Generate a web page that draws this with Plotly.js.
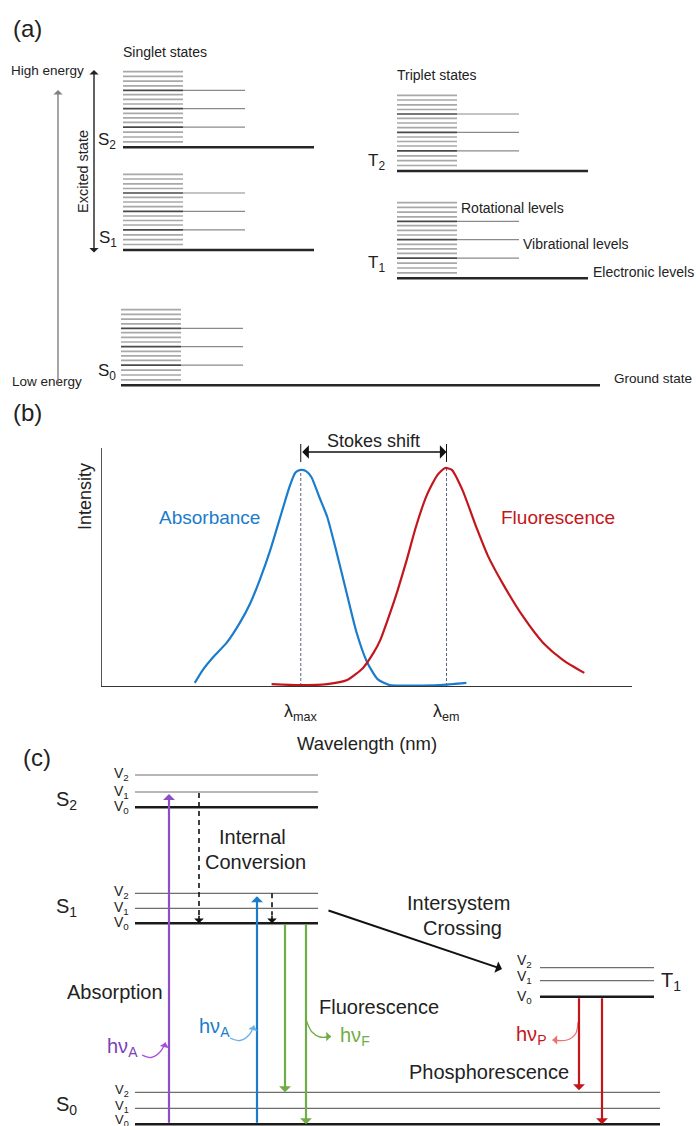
<!DOCTYPE html>
<html><head><meta charset="utf-8">
<script src="https://cdn.plot.ly/plotly-3.0.1.min.js"></script>
<style>html,body{margin:0;padding:0;background:#fff}#chart{width:696px;height:1126px}</style>
</head><body><div id="chart"></div>
<script>
// ---------------- (a) Energy levels (canvas units, y downward) ----------------
const singletLabels = ['S<sub>2</sub>', 'S<sub>1</sub>', 'S<sub>0</sub>'];
const singletLevels = [147.3, 250, 385.3];
const tripletLabels = ['T<sub>2</sub>', 'T<sub>1</sub>'];
const tripletLevels = [171, 278.3];
const rotationalOffsets = [5.5, 10.3, 15.2, 20.2, 25, 29.5, 34, 38.7, 43.3, 48, 52.6, 57, 61.5, 66.2, 71, 75.6];
const vibrationalOffsets = [20.2, 38.7, 57];

// ---------------- (b) Spectra ----------------
const absWavelength = [320, 326, 334, 344, 354, 362, 369, 377, 384, 392, 396, 400, 404, 408, 414, 420, 427, 435, 442, 450, 458, 467, 482, 505, 525];
const absIntensity  = [0.013, 0.067, 0.122, 0.181, 0.265, 0.349, 0.445, 0.571, 0.70, 0.845, 0.897, 0.908, 0.903, 0.878, 0.794, 0.710, 0.563, 0.382, 0.227, 0.101, 0.029, 0.004, 0.002, 0.004, 0.013];
const fluoWavelength = [378, 399, 420, 435, 447, 455, 460, 467, 473, 480, 487, 495, 503, 509, 514, 522, 533, 541, 553, 568, 583, 598, 614];
const fluoIntensity  = [0.008, 0.004, 0.008, 0.025, 0.076, 0.14, 0.193, 0.30, 0.40, 0.53, 0.67, 0.80, 0.885, 0.916, 0.908, 0.824, 0.66, 0.55, 0.425, 0.290, 0.181, 0.109, 0.055];
const lambdaMax = 400;
const lambdaEm = 510;

// ---------------- (c) Jablonski diagram ----------------
const cStateLabels = ['S<sub>2</sub>', 'S<sub>1</sub>', 'S<sub>0</sub>', 'T<sub>1</sub>'];
const cV0 = [807.3, 923.3, 1124.3, 996.7];
const cV1 = [792, 908.3, 1108.3, 980.7];
const cV2 = [775, 893.3, 1092.3, 967.7];
const vibLabels = ['V<sub>0</sub>', 'V<sub>1</sub>', 'V<sub>2</sub>'];

const FONT = 'Liberation Sans, Arial, sans-serif';
const TXT = '#222';
const BLUE = '#1b7ccc', RED = '#c3161c', GREEN = '#70ad47', PURPLE = '#8c4fc4';

const traces = [];
const annotations = [];
const shapes = [];

function segTrace(segs, color, width, dash) {
  const x = [], y = [];
  segs.forEach(s => { x.push(s[0], s[2], null); y.push(s[1], s[3], null); });
  traces.push({x, y, xaxis: 'x', yaxis: 'y', mode: 'lines', hoverinfo: 'skip',
    line: {color, width, dash: dash || 'solid'}, showlegend: false});
}
function txt(text, x, y, size, opt) {
  annotations.push(Object.assign({text, x, y, xref: 'x', yref: 'y', showarrow: false,
    font: {family: FONT, size, color: TXT}, xanchor: 'center', yanchor: 'middle'}, opt || {}));
}
function arrow(x0, y0, x1, y1, color, width, size, both) {
  annotations.push({xref: 'x', yref: 'y', axref: 'x', ayref: 'y', x: x1, y: y1, ax: x0, ay: y0,
    text: '', showarrow: true, arrowcolor: color, arrowwidth: width, arrowsize: size,
    arrowhead: 1, startarrowhead: 1, startarrowsize: size, arrowside: both ? 'end+start' : 'end',
    standoff: 0, startstandoff: 0});
}
function head(x, y, dx, dy, color, width, size) {
  annotations.push({xref: 'x', yref: 'y', axref: 'pixel', ayref: 'pixel', x, y, ax: dx, ay: dy,
    text: '', showarrow: true, arrowcolor: color, arrowwidth: width, arrowsize: size,
    arrowhead: 1, standoff: 0});
}

// ---------- panel (a) ----------
function stack(base, x0, x1, xv, xe) {
  const light = [], dark = [], vib = [];
  rotationalOffsets.forEach(o => {
    const seg = [x0, base - o, x1, base - o];
    if (vibrationalOffsets.indexOf(o) >= 0) dark.push(seg); else light.push(seg);
  });
  vibrationalOffsets.forEach(o => vib.push([x1, base - o, xv, base - o]));
  segTrace(light, '#a8a8a8', 1.7);
  segTrace(vib, '#8a8a8a', 1.2);
  segTrace(dark, '#4a4a4a', 1.7);
  segTrace([[x0, base, xe, base]], '#262626', 2.6);
}
stack(singletLevels[0], 123, 183, 245, 314);
stack(singletLevels[1], 123, 183, 245, 314);
stack(singletLevels[2], 121, 181, 243, 600);
stack(tripletLevels[0], 397, 457, 519, 588);
stack(tripletLevels[1], 397, 457, 519, 588);

txt('(a)', 11, 28, 24, {xanchor: 'left'});
txt('Singlet states', 165, 52, 14);
txt('Triplet states', 437, 75, 14);
txt('High energy', 9, 70, 13.5, {xanchor: 'left'});
txt('Low energy', 10, 381, 13.5, {xanchor: 'left'});
txt('Excited state', 83, 172, 14.5, {textangle: -90});
txt(singletLabels[0], 107, singletLevels[0] - 6, 17);
txt(singletLabels[1], 108, singletLevels[1] - 11, 17);
txt(singletLabels[2], 107, singletLevels[2] - 13, 17);
txt(tripletLabels[0], 376, tripletLevels[0] - 9, 17);
txt(tripletLabels[1], 376, tripletLevels[1] - 14, 17);
txt('Rotational levels', 459, 208, 14, {xanchor: 'left'});
txt('Vibrational levels', 521, 244, 14, {xanchor: 'left'});
txt('Electronic levels', 591, 272, 14, {xanchor: 'left'});
txt('Ground state', 612, 378, 13.5, {xanchor: 'left'});
arrow(58, 386, 58, 90, '#808080', 1.4, 1.1, false);
arrow(94, 254, 94, 70, '#222', 1.4, 1.1, true);

// ---------- panel (b) ----------
const absPeak = Math.max(...absIntensity);
const fluoPeak = Math.max(...fluoIntensity);
traces.push({x: [lambdaMax, lambdaMax], y: [0, absPeak], xaxis: 'x2', yaxis: 'y2', mode: 'lines',
  line: {color: '#5b6680', width: 1, dash: '3px,2px'}, hoverinfo: 'skip', showlegend: false});
traces.push({x: [lambdaEm, lambdaEm], y: [0, fluoPeak], xaxis: 'x2', yaxis: 'y2', mode: 'lines',
  line: {color: '#5b6680', width: 1, dash: '3px,2px'}, hoverinfo: 'skip', showlegend: false});
traces.push({x: absWavelength, y: absIntensity, xaxis: 'x2', yaxis: 'y2', mode: 'lines',
  line: {color: BLUE, width: 2.2, shape: 'spline', smoothing: 0.6}, name: 'Absorbance', showlegend: false});
traces.push({x: fluoWavelength, y: fluoIntensity, xaxis: 'x2', yaxis: 'y2', mode: 'lines',
  line: {color: RED, width: 2.2, shape: 'spline', smoothing: 0.6}, name: 'Fluorescence', showlegend: false});

const py = v => 1 - v / 1126;
annotations.push({xref: 'x2', yref: 'paper', axref: 'x2', ayref: 'paper', x: lambdaEm, y: py(452),
  ax: lambdaMax, ay: py(452), text: '', showarrow: true, arrowcolor: '#111', arrowwidth: 1.3,
  arrowhead: 1, startarrowhead: 1, arrowsize: 1.7, startarrowsize: 1.7, arrowside: 'end+start', standoff: 0, startstandoff: 0});
[lambdaMax, lambdaEm].forEach(l => shapes.push({type: 'line', xref: 'x2', yref: 'paper',
  x0: l, x1: l, y0: py(444), y1: py(462), line: {color: '#111', width: 1}}));
annotations.push({xref: 'x2', yref: 'paper', x: (lambdaMax + lambdaEm) / 2, y: py(441), text: 'Stokes shift',
  showarrow: false, font: {family: FONT, size: 18, color: TXT}});
annotations.push({xref: 'x2', yref: 'y2', x: 331, y: 0.71, text: 'Absorbance', showarrow: false,
  font: {family: FONT, size: 19, color: BLUE}});
annotations.push({xref: 'x2', yref: 'y2', x: 594, y: 0.71, text: 'Fluorescence', showarrow: false,
  font: {family: FONT, size: 19, color: RED}});
annotations.push({xref: 'x2', yref: 'paper', x: lambdaMax, y: py(712), text: 'λ<sub>max</sub>', showarrow: false,
  font: {family: FONT, size: 18, color: TXT}});
annotations.push({xref: 'x2', yref: 'paper', x: lambdaEm, y: py(712), text: 'λ<sub>em</sub>', showarrow: false,
  font: {family: FONT, size: 18, color: TXT}});
txt('(b)', 11, 412, 24, {xanchor: 'left'});
txt('Intensity', 85, 497, 18, {textangle: -90});
txt('Wavelength (nm)', 367, 743, 18.5);

// ---------- panel (c) ----------
const leftX0 = 135, leftX1 = 318;
for (let i = 0; i < 2; i++) {
  segTrace([[leftX0, cV1[i], leftX1, cV1[i]], [leftX0, cV2[i], leftX1, cV2[i]]], '#6e6e6e', 1.2);
  segTrace([[leftX0, cV0[i], leftX1, cV0[i]]], '#1a1a1a', 2.4);
}
segTrace([[leftX0, cV1[2], 660, cV1[2]], [leftX0, cV2[2], 660, cV2[2]]], '#6e6e6e', 1.2);
segTrace([[leftX0, cV0[2], 660, cV0[2]]], '#1a1a1a', 2.4);
segTrace([[540, cV1[3], 654, cV1[3]], [540, cV2[3], 654, cV2[3]]], '#6e6e6e', 1.2);
segTrace([[540, cV0[3], 654, cV0[3]]], '#1a1a1a', 2.4);

for (let i = 0; i < 2; i++) {
  txt(vibLabels[0], 131, cV0[i], 14, {xanchor: 'right'});
  txt(vibLabels[1], 131, cV1[i], 14, {xanchor: 'right'});
  txt(vibLabels[2], 131, cV2[i] - 1, 14, {xanchor: 'right'});
}
txt(vibLabels[0], 131, cV0[2] - 4, 13, {xanchor: 'right'});
txt(vibLabels[1], 131, cV1[2] - 2, 13, {xanchor: 'right'});
txt(vibLabels[2], 131, cV2[2] - 2, 13, {xanchor: 'right'});
txt(vibLabels[0], 534, cV0[3], 14, {xanchor: 'right'});
txt(vibLabels[1], 534, cV1[3] - 4, 14, {xanchor: 'right'});
txt(vibLabels[2], 534, cV2[3] - 7, 14, {xanchor: 'right'});
txt(cStateLabels[0], 66, 800, 20);
txt(cStateLabels[1], 66, 907, 20);
txt(cStateLabels[2], 66, 1105, 20);
txt(cStateLabels[3], 671, 981, 20);
txt('(c)', 21, 757, 24, {xanchor: 'left'});

// transitions
arrow(169, cV0[2], 169, cV1[0] + 2, PURPLE, 2.2, 0.9);
arrow(257, cV0[2], 257, cV2[1] + 3, BLUE, 2.2, 0.9);
segTrace([[199, cV1[0] + 1, 199, cV0[1] - 8]], '#111', 1.6, '5px,4px');
arrow(199, cV0[1] - 9, 199, cV0[1], '#111', 1.6, 1);
segTrace([[272, cV2[1], 272, cV0[1] - 8]], '#111', 1.6, '5px,4px');
arrow(272, cV0[1] - 9, 272, cV0[1], '#111', 1.6, 1);
arrow(285, cV0[1], 285, cV2[2], GREEN, 2.2, 0.9);
arrow(306, cV0[1], 306, cV0[2], GREEN, 2.2, 0.9);
arrow(579, cV0[3], 579, cV2[2] - 2, RED, 2.2, 0.9);
arrow(602, cV0[3], 602, cV0[2], RED, 2.2, 0.9);
arrow(327, 910, 502, 969, '#111', 2, 1);

// photon curls
function curl(xs, ys, color, dx, dy) {
  traces.push({x: xs, y: ys, xaxis: 'x', yaxis: 'y', mode: 'lines', hoverinfo: 'skip', showlegend: false,
    line: {color, width: 1.3, shape: 'spline'}});
  head(xs[xs.length - 1], ys[ys.length - 1], dx, dy, color, 1.3, 1.2);
}
curl([142, 151, 160, 165.5], [1055, 1057.5, 1052, 1042.5], '#a54ee0', -1, 4);
curl([230, 240, 249, 254], [1038, 1040.5, 1035, 1025.5], '#6ab0ea', -1, 4);
curl([306.5, 312, 320, 331], [1021, 1032, 1037, 1036.5], GREEN, -4, 0);
curl([578, 575.5, 567, 552.5], [1022, 1034, 1040, 1040], '#f07070', 4, 0);

txt('Internal', 252, 837, 20);
txt('Conversion', 255, 862, 20);
txt('Intersystem', 458, 903, 20);
txt('Crossing', 462, 928, 20);
txt('Absorption', 65, 992, 20, {xanchor: 'left'});
txt('Fluorescence', 317, 1007, 20, {xanchor: 'left'});
txt('Phosphorescence', 407, 1072, 20, {xanchor: 'left'});
txt('hν<sub>A</sub>', 105, 1047, 20, {xanchor: 'left', font: {family: FONT, size: 20, color: '#7e3fb5'}});
txt('hν<sub>A</sub>', 197, 1027, 20, {xanchor: 'left', font: {family: FONT, size: 20, color: BLUE}});
txt('hν<sub>F</sub>', 338, 1036, 20, {xanchor: 'left', font: {family: FONT, size: 20, color: GREEN}});
txt('hν<sub>P</sub>', 548, 1035, 20, {xanchor: 'right', font: {family: FONT, size: 20, color: RED}});

const layout = {
  width: 696, height: 1126,
  margin: {l: 0, r: 0, t: 0, b: 0, pad: 0},
  paper_bgcolor: '#fff', plot_bgcolor: 'rgba(0,0,0,0)',
  showlegend: false,
  font: {family: FONT, color: TXT},
  xaxis: {domain: [0, 1], range: [0, 696], autorange: false, visible: false, fixedrange: true},
  yaxis: {domain: [0, 1], range: [1126, 0], autorange: false, visible: false, fixedrange: true},
  xaxis2: {domain: [102 / 696, 632 / 696], range: [250, 650], autorange: false, anchor: 'y2',
    showline: true, linecolor: '#333', linewidth: 1.4, showgrid: false, zeroline: false,
    showticklabels: false, ticks: '', fixedrange: true},
  yaxis2: {domain: [1 - 686 / 1126, 1 - 448 / 1126], range: [0, 1], autorange: false, anchor: 'x2',
    showline: true, linecolor: '#555', linewidth: 1.4, showgrid: false, zeroline: false,
    showticklabels: false, ticks: '', fixedrange: true},
  annotations, shapes
};
Plotly.newPlot('chart', traces, layout, {staticPlot: true, displayModeBar: false});
</script></body></html>
